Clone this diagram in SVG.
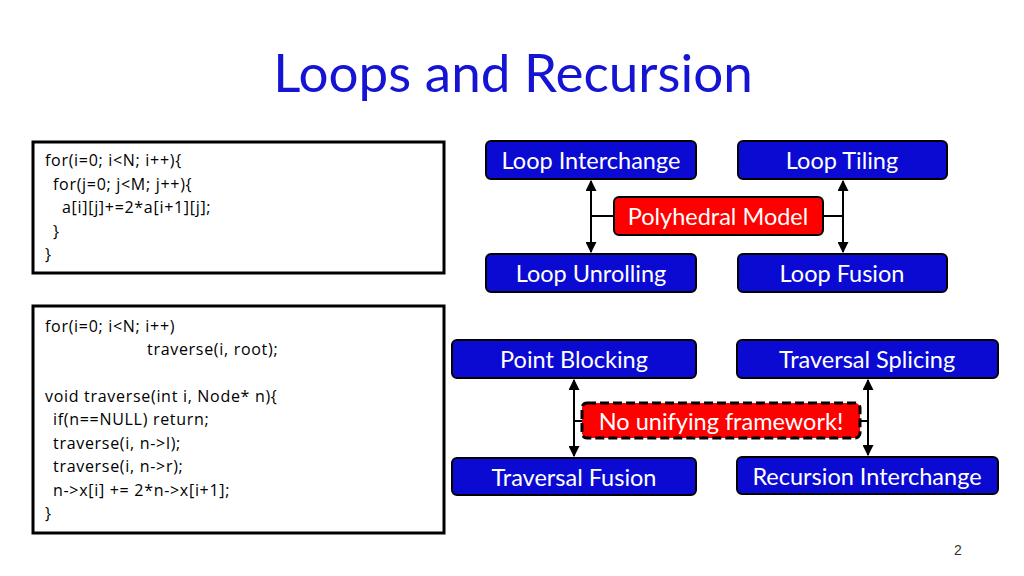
<svg xmlns="http://www.w3.org/2000/svg" width="1024" height="576" viewBox="0 0 1024 576">
<defs>
<style>
.title{font-family:Lato,"Open Sans",sans-serif;font-size:53px;fill:#1414d2}
.code{font-family:"Open Sans","Liberation Sans",sans-serif;font-size:16px;letter-spacing:0.7px;fill:#000}
.cbox{fill:#fff;stroke:#000;stroke-width:3}
.bbox{fill:#0a0ad2;stroke:#000;stroke-width:2}
.rbox{fill:#ff0000;stroke:#000;stroke-width:2}
.dbox{fill:#ff0000;stroke:#000;stroke-width:3;stroke-dasharray:9 4}
.lbl{font-family:Lato,"Open Sans",sans-serif;font-size:23.5px;fill:#fff;text-anchor:middle}
.conn{stroke:#000;stroke-width:2;fill:none}
.pg{font-family:"Liberation Sans",Arial,sans-serif;font-size:14px;fill:#333}
</style>
<marker id="ah" viewBox="0 0 10 10" refX="9" refY="5" markerWidth="5.5" markerHeight="5.5" orient="auto-start-reverse">
<path d="M0,0 L10,5 L0,10 z" fill="#000"/>
</marker>
</defs>
<rect width="1024" height="576" fill="#fff"/>
<text class="title" x="513" y="92" text-anchor="middle">Loops and Recursion</text>

<g id="code1">
<rect class="cbox" x="33" y="142" width="411" height="131"/>
<text class="code" x="45" y="166">for(i=0; i&lt;N; i++){</text>
<text class="code" x="53" y="190">for(j=0; j&lt;M; j++){</text>
<text class="code" x="62" y="213">a[i][j]+=2*a[i+1][j];</text>
<text class="code" x="53" y="237">}</text>
<text class="code" x="45" y="260">}</text>
</g>

<g id="code2">
<rect class="cbox" x="33" y="306" width="411" height="227"/>
<text class="code" x="45" y="332">for(i=0; i&lt;N; i++)</text>
<text class="code" x="147" y="355">traverse(i, root);</text>
<text class="code" x="45" y="402">void traverse(int i, Node* n){</text>
<text class="code" x="53" y="425">if(n==NULL) return;</text>
<text class="code" x="53" y="449">traverse(i, n-&gt;l);</text>
<text class="code" x="53" y="472">traverse(i, n-&gt;r);</text>
<text class="code" x="53" y="496">n-&gt;x[i] += 2*n-&gt;x[i+1];</text>
<text class="code" x="45" y="519">}</text>
</g>

<g id="connectors">
<line class="conn" x1="591" y1="181" x2="591" y2="252" marker-start="url(#ah)" marker-end="url(#ah)"/>
<line class="conn" x1="591" y1="216" x2="614" y2="216"/>
<line class="conn" x1="843" y1="181" x2="843" y2="252" marker-start="url(#ah)" marker-end="url(#ah)"/>
<line class="conn" x1="823" y1="216" x2="843" y2="216"/>
<line class="conn" x1="574" y1="380" x2="574" y2="456" marker-start="url(#ah)" marker-end="url(#ah)"/>
<line class="conn" x1="574" y1="421" x2="582" y2="421"/>
<line class="conn" x1="868" y1="380" x2="868" y2="455" marker-start="url(#ah)" marker-end="url(#ah)"/>
<line class="conn" x1="860" y1="421" x2="868" y2="421"/>
</g>

<g id="loop-interchange">
<rect class="bbox" x="486" y="141" width="210" height="38" rx="5"/>
<text class="lbl" x="591" y="169">Loop Interchange</text>
</g>
<g id="loop-tiling">
<rect class="bbox" x="738" y="141" width="209" height="38" rx="5"/>
<text class="lbl" x="842" y="169">Loop Tiling</text>
</g>
<g id="polyhedral-model">
<rect class="rbox" x="614" y="197" width="209" height="38" rx="5"/>
<text class="lbl" x="718" y="225">Polyhedral Model</text>
</g>
<g id="loop-unrolling">
<rect class="bbox" x="486" y="254" width="210" height="38" rx="5"/>
<text class="lbl" x="591" y="282">Loop Unrolling</text>
</g>
<g id="loop-fusion">
<rect class="bbox" x="738" y="254" width="209" height="38" rx="5"/>
<text class="lbl" x="842" y="282">Loop Fusion</text>
</g>

<g id="point-blocking">
<rect class="bbox" x="452" y="340" width="244" height="38" rx="5"/>
<text class="lbl" x="574" y="368">Point Blocking</text>
</g>
<g id="traversal-splicing">
<rect class="bbox" x="737" y="340" width="261" height="38" rx="5"/>
<text class="lbl" x="867" y="368">Traversal Splicing</text>
</g>
<g id="no-unifying">
<rect class="dbox" x="582" y="403" width="278" height="35" rx="5"/>
<text class="lbl" x="721" y="430">No unifying framework!</text>
</g>
<g id="traversal-fusion">
<rect class="bbox" x="452" y="458" width="244" height="37" rx="5"/>
<text class="lbl" x="574" y="486">Traversal Fusion</text>
</g>
<g id="recursion-interchange">
<rect class="bbox" x="737" y="457" width="261" height="37" rx="5"/>
<text class="lbl" x="867" y="485">Recursion Interchange</text>
</g>

<text class="pg" x="958" y="555" text-anchor="middle">2</text>
</svg>
